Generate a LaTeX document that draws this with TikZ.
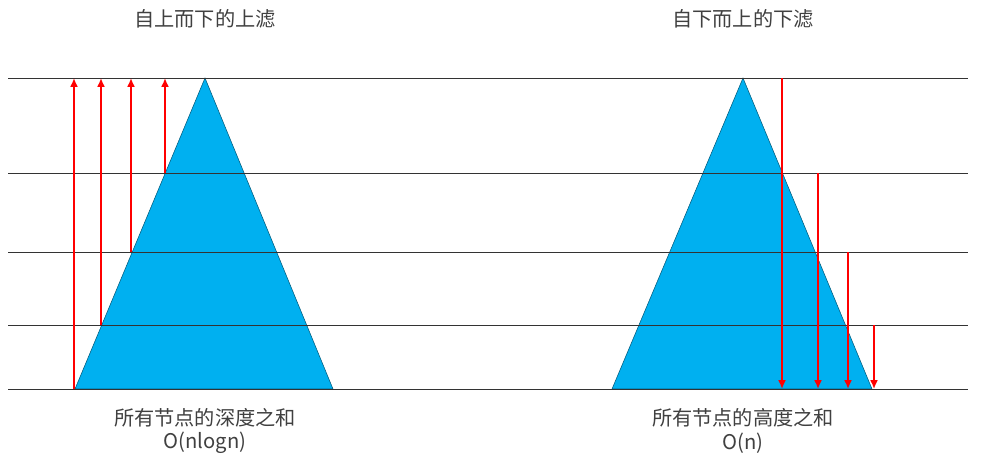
\documentclass[tikz,border=0pt]{standalone}
\usepackage{fontspec}
\setmainfont{Noto Sans CJK SC}
\usetikzlibrary{arrows.meta}
\definecolor{heapblue}{HTML}{00B0F0}
\definecolor{labelgray}{HTML}{404040}

\begin{document}
\begin{tikzpicture}[x=0.02cm, y=-0.02cm,
  every node/.style={text=labelgray, inner sep=0pt, font=\fontsize{11.5}{14}\selectfont},
  level/.style={draw=black!80, line width=0.5pt},
  heap/.style={fill=heapblue, draw=heapblue!50!black, line width=0.3pt},
  filter/.style={draw=red, line width=1.1pt, -{Latex[length=5pt,width=4.5pt]}}]

    \useasboundingbox (0,0) rectangle (983,460);

    % the two heaps
    \coordinate (top1) at (205,78);
    \coordinate (bl1) at (75,389);
    \coordinate (br1) at (333,389);

    \coordinate (top2) at (743,78);
    \coordinate (bl2) at (612,389);
    \coordinate (br2) at (872,389);

    \draw[heap] (bl1) -- (top1) -- (br1) -- cycle;
    \draw[heap] (bl2) -- (top2) -- (br2) -- cycle;

    % levels
    \foreach \y [count=\i] in {78,173,252,325,389} {
        \coordinate (la\i) at (8,\y);
        \coordinate (lb\i) at (968,\y);
        \draw[level] (la\i) -- (lb\i);
    }

    % sift up, left
    \coordinate (u1) at (165,173);
    \coordinate (u2) at (131,252);
    \coordinate (u3) at (101,325);
    \coordinate (u4) at (74,389);

    \draw[filter] (u1) -- (u1 |- la1);
    \draw[filter] (u2) -- (u2 |- la1);
    \draw[filter] (u3) -- (u3 |- la1);
    \draw[filter] (u4) -- (u4 |- la1);

    % sift down, right
    \coordinate (d1) at (782,78);
    \coordinate (d2) at (818,173);
    \coordinate (d3) at (848,252);
    \coordinate (d4) at (874,325);

    \draw[filter] (d1) -- (d1 |- la5);
    \draw[filter] (d2) -- (d2 |- la5);
    \draw[filter] (d3) -- (d3 |- la5);
    \draw[filter] (d4) -- (d4 |- la5);

    % texts
    \node (title1) at (205,19) {自上而下的上滤};
    \node (title2) at (743,19) {自下而上的下滤};

    \node (sum1) at (205,418) {所有节点的深度之和};
    \node (cost1) at (205,443) {O(nlogn)};
    \node (sum2) at (743,418) {所有节点的高度之和};
    \node (cost2) at (743,443) {O(n)};

\end{tikzpicture}
\end{document}
